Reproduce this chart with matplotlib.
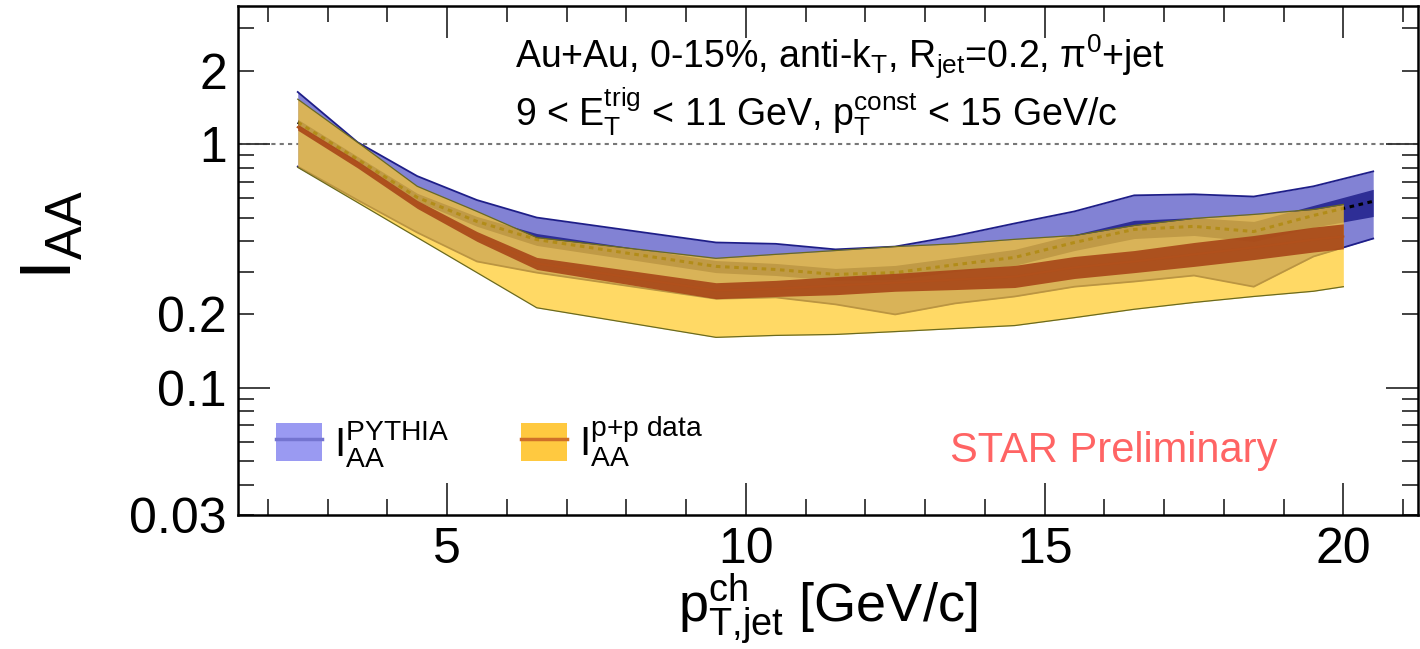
import numpy as np
import matplotlib
matplotlib.use("Agg")
import matplotlib.pyplot as plt
from matplotlib.patches import Patch
from matplotlib.lines import Line2D
from matplotlib.ticker import FixedLocator, FixedFormatter, NullFormatter

plt.rcParams['font.family'] = ['Liberation Sans', 'DejaVu Sans']
plt.rcParams['mathtext.fontset'] = 'custom'
plt.rcParams['mathtext.rm'] = 'Liberation Sans'
plt.rcParams['mathtext.it'] = 'Liberation Sans'
plt.rcParams['mathtext.bf'] = 'Liberation Sans:bold'

# =========================
# Data
# =========================
# I_AA with PYTHIA reference
pt_py = [2.5, 3.5, 4.5, 5.5, 6.5, 9.5, 10.5, 11.5, 12.5, 13.5, 14.5, 15.5, 16.5, 17.5, 18.5, 19.5, 20.5]
iaa_py = [1.232, 0.868, 0.605, 0.482, 0.406, 0.315, 0.306, 0.292, 0.297, 0.320, 0.343, 0.395, 0.447, 0.460, 0.438, 0.510, 0.583]
py_stat_hi = [1.267, 0.892, 0.629, 0.505, 0.430, 0.333, 0.324, 0.309, 0.318, 0.343, 0.370, 0.426, 0.487, 0.500, 0.482, 0.561, 0.653]
py_stat_lo = [1.197, 0.843, 0.583, 0.460, 0.384, 0.297, 0.289, 0.276, 0.278, 0.300, 0.318, 0.366, 0.410, 0.422, 0.399, 0.456, 0.505]
py_sys_hi = [1.64, 1.02, 0.74, 0.59, 0.50, 0.395, 0.39, 0.37, 0.38, 0.42, 0.473, 0.53, 0.617, 0.623, 0.61, 0.672, 0.774]
py_sys_lo = [0.81, 0.59, 0.434, 0.33, 0.297, 0.232, 0.235, 0.22, 0.20, 0.222, 0.237, 0.26, 0.273, 0.289, 0.26, 0.346, 0.41]

# I_AA with p+p data reference
pt_pp = [2.5, 3.5, 4.5, 5.5, 6.5, 9.5, 10.5, 11.5, 12.5, 13.5, 14.5, 15.5, 16.5, 17.5, 18.5, 19.5, 20.0]
iaa_pp = [1.175, 0.827, 0.566, 0.418, 0.324, 0.251, 0.255, 0.263, 0.270, 0.278, 0.286, 0.312, 0.330, 0.353, 0.377, 0.406, 0.418]
pp_stat_hi = [1.208, 0.855, 0.588, 0.438, 0.343, 0.270, 0.276, 0.286, 0.295, 0.306, 0.318, 0.346, 0.366, 0.395, 0.422, 0.457, 0.471]
pp_stat_lo = [1.142, 0.800, 0.545, 0.399, 0.306, 0.232, 0.237, 0.241, 0.249, 0.253, 0.258, 0.281, 0.297, 0.315, 0.336, 0.361, 0.372]
pp_sys_hi = [1.532, 1.019, 0.672, 0.53, 0.414, 0.34, 0.353, 0.366, 0.38, 0.39, 0.407, 0.422, 0.464, 0.496, 0.515, 0.54, 0.566]
pp_sys_lo = [0.804, 0.577, 0.414, 0.297, 0.213, 0.161, 0.164, 0.1655, 0.17, 0.175, 0.18, 0.194, 0.21, 0.224, 0.237, 0.249, 0.26]

yticks_major = [0.1, 1]
yticks_minor = [0.03, 0.04, 0.05, 0.06, 0.07, 0.08, 0.09, 0.2, 0.3, 0.4, 0.5, 0.6, 0.7, 0.8, 0.9, 2, 3]
ylabels_minor = {0.03: "0.03", 0.2: "0.2", 2: "2"}

# =========================
# Figure
# =========================
fig = plt.figure(figsize=(14.2, 6.49), dpi=100)
ax = fig.add_axes([0.1676, 0.2065, 0.8310, 0.7843])
ax.set_yscale('log')
ax.set_xlim(1.5, 21.25)
ax.set_ylim(0.03, 3.7)

ax.axhline(1.0, color='#777777', lw=1.5, ls=(0, (2, 2)), zorder=0)

# PYTHIA: sys band, stat band, central value
ax.fill_between(pt_py, py_sys_lo, py_sys_hi, color='#8282d4', lw=0, zorder=1)
ax.plot(pt_py, py_sys_hi, color='#1e1e88', lw=1.3, zorder=1.1)
ax.plot(pt_py, py_sys_lo, color='#1e1e88', lw=1.3, zorder=1.1)
ax.fill_between(pt_py, py_stat_lo, py_stat_hi, color='#2e2e96', lw=0, zorder=1.2)
ax.plot(pt_py, iaa_py, color='black', lw=2.2, ls=(0, (1.5, 1.5)), zorder=1.3)

# p+p data: sys band, stat band, central value
ax.fill_between(pt_pp, pp_sys_lo, pp_sys_hi, color='#ffc924', alpha=0.7, lw=0, zorder=2)
ax.plot(pt_pp, pp_sys_hi, color='#6a6a20', lw=0.9, zorder=2.1)
ax.plot(pt_pp, pp_sys_lo, color='#6a6a20', lw=0.9, zorder=2.1)
ax.fill_between(pt_pp, pp_stat_lo, pp_stat_hi, color='#a84618', alpha=0.9, lw=0, zorder=2.2)
ax.plot(pt_pp, iaa_pp, color='#b0501c', lw=1.5, zorder=2.3)

# ticks, ROOT style
ax.xaxis.set_major_locator(FixedLocator([5, 10, 15, 20]))
ax.xaxis.set_minor_locator(FixedLocator([2, 3, 4, 6, 7, 8, 9, 11, 12, 13, 14, 16, 17, 18, 19, 21]))
ax.yaxis.set_major_locator(FixedLocator(yticks_major))
ax.yaxis.set_major_formatter(FixedFormatter(["0.1", "1"]))
ax.yaxis.set_minor_locator(FixedLocator(yticks_minor))
ax.yaxis.set_minor_formatter(FixedFormatter([ylabels_minor.get(v, "") for v in yticks_minor]))
ax.tick_params(which='both', direction='in', top=True, right=True, color='#333333', width=1.3)
ax.tick_params(which='major', length=23)
ax.tick_params(which='minor', length=11.5)
ax.tick_params(axis='both', which='both', labelsize=36)
ax.tick_params(axis='x', which='major', pad=9)
ax.tick_params(axis='y', which='both', pad=8)
for s in ax.spines.values():
    s.set_linewidth(1.8)

ax.set_xlabel(r'$\mathregular{p_{T{,}jet}^{ch}}$ [GeV/c]', fontsize=39)
ax.xaxis.set_label_coords(0.5, -0.11)
ax.set_ylabel(r'$\mathregular{I_{AA}}$', fontsize=52)
ax.yaxis.set_label_coords(-0.128, 0.55)

ax.text(0.2347, 0.879, r'Au+Au, 0-15%, anti-k$_{\mathregular{T}}$, R$_{\mathregular{jet}}$=0.2, π$^{\mathregular{0}}$+jet',
        transform=ax.transAxes, fontsize=27, ha='left', va='baseline')
ax.text(0.2347, 0.765, r'9 < E$_{\mathregular{T}}^{\mathregular{trig}}$ < 11 GeV, p$_{\mathregular{T}}^{\mathregular{const}}$ < 15 GeV/c',
        transform=ax.transAxes, fontsize=27, ha='left', va='baseline')
ax.text(0.6035, 0.105, 'STAR Preliminary', transform=ax.transAxes, fontsize=30,
        color='#ff6464', ha='left', va='baseline')

# legend
h_py = (Patch(facecolor='#9a9af2', edgecolor='none'), Line2D([], [], color='#7474d0', lw=2.5))
h_pp = (Patch(facecolor='#ffc940', edgecolor='none'), Line2D([], [], color='#d07028', lw=2.5))
ax.legend([h_py, h_pp], [r'$\mathregular{I_{AA}^{PYTHIA}}$', r'$\mathregular{I_{AA}^{p{+}p\ data}}$'],
          loc='center left', bbox_to_anchor=(0.032, 0.145), ncol=2, frameon=False,
          fontsize=29, handlelength=1.14, handleheight=1.1, handletextpad=0.3,
          columnspacing=1.78, borderaxespad=0, borderpad=0)

fig.savefig('out.png', dpi=100)
